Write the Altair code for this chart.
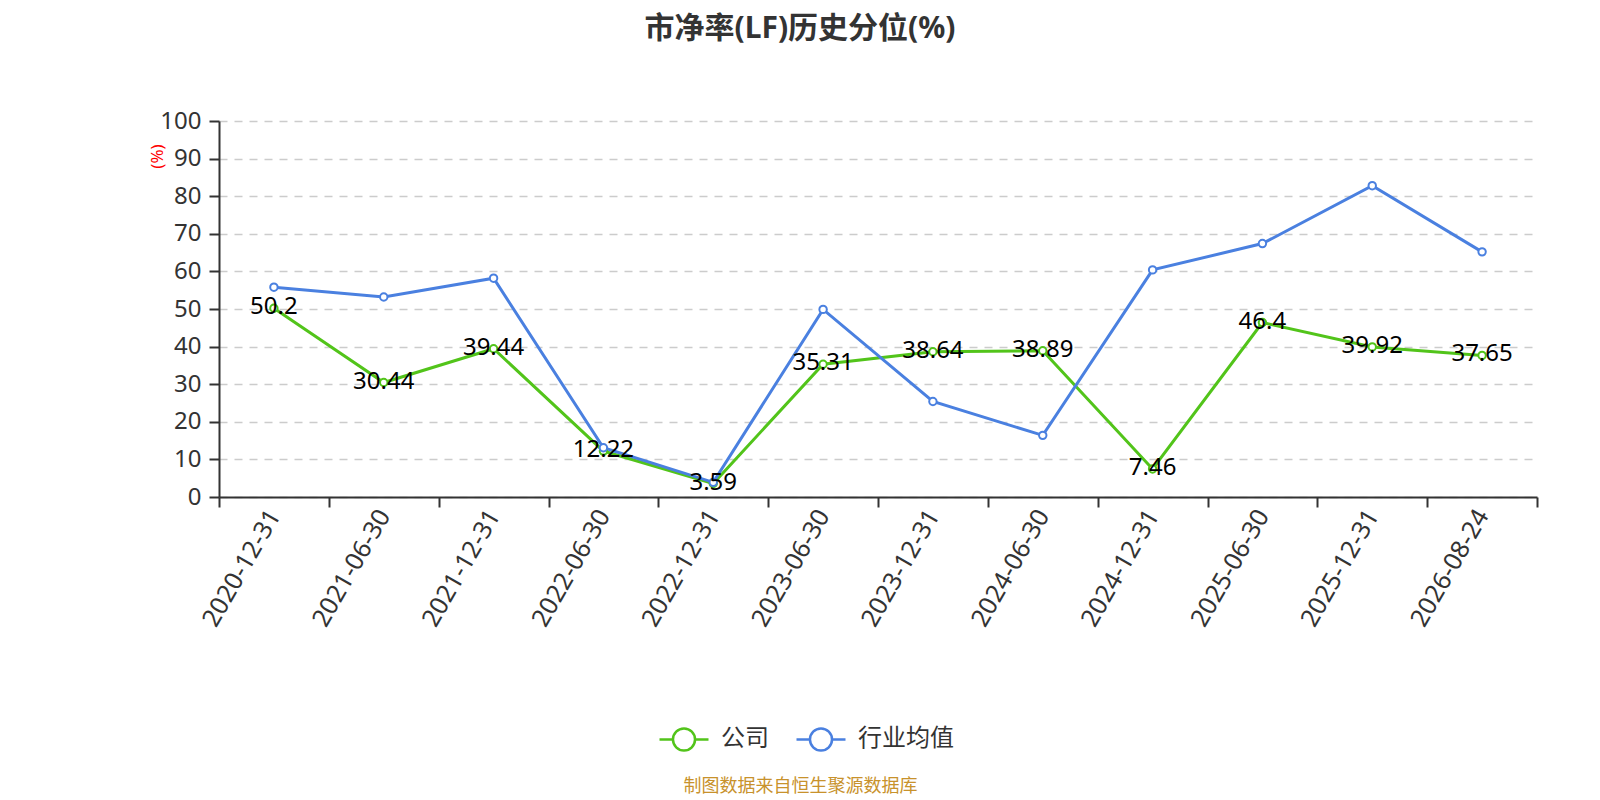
import altair as alt
import pandas as pd

dates = ["2020-12-31", "2021-06-30", "2021-12-31", "2022-06-30", "2022-12-31", "2023-06-30",
         "2023-12-31", "2024-06-30", "2024-12-31", "2025-06-30", "2025-12-31", "2026-08-24"]
company = [50.2, 30.44, 39.44, 12.22, 3.59, 35.31, 38.64, 38.89, 7.46, 46.4, 39.92, 37.65]
industry = [55.8, 53.2, 58.2, 13.1, 3.9, 49.9, 25.4, 16.4, 60.4, 67.4, 82.8, 65.2]
series_names = ["公司", "行业均值"]
series_colors = ["#52c41a", "#4a80e0"]

FONT = "Noto Sans, Noto Sans CJK SC, sans-serif"

rows = []
for d, v in zip(dates, company):
    rows.append({"date": d, "series": series_names[0], "value": v, "label": f"{v:g}"})
for d, v in zip(dates, industry):
    rows.append({"date": d, "series": series_names[1], "value": v, "label": ""})
df = pd.DataFrame(rows)

legend_path = ("M-1,0L-0.45,0M0.45,0L1,0"
               "M-0.45,0A0.45,0.45,0,1,1,0.45,0A0.45,0.45,0,1,1,-0.45,0")

x_enc = alt.X("date:N", sort=dates,
              scale=alt.Scale(type="band", paddingInner=0, paddingOuter=0),
              axis=alt.Axis(title="制图数据来自恒生聚源数据库", titleFontSize=18,
                            titleColor="#c8922c", titleFont=FONT, titleFontWeight="normal",
                            titleX=581, titleY=289, titleAlign="center",
                            titleBaseline="middle", titleAngle=0,
                            labelAngle=-60, labelFontSize=25, labelColor="#333333",
                            labelFont=FONT, labelAlign="right", labelBaseline="middle",
                            labelPadding=4, tickSize=10, tickWidth=2, tickColor="#333333",
                            tickBand="extent", domainColor="#333333", domainWidth=2,
                            grid=False, labelOverlap=False))
y_enc = alt.Y("value:Q", scale=alt.Scale(domain=[0, 100], nice=False),
              axis=alt.Axis(title="(%)", titleColor="red", titleFontSize=17,
                            titleFont=FONT, titleFontWeight="normal",
                            titleAngle=-90, titleX=-62, titleY=35,
                            titleAlign="center", titleBaseline="middle",
                            values=list(range(0, 101, 10)), labelFontSize=24,
                            labelColor="#333333", labelFont=FONT, labelPadding=8,
                            tickSize=10, tickWidth=2, tickColor="#333333",
                            domainColor="#333333", domainWidth=2,
                            grid=True, gridColor="#cccccc", gridDash=[8, 7],
                            gridWidth=1.5))
color_enc = alt.Color("series:N", sort=series_names,
                      scale=alt.Scale(domain=series_names, range=series_colors),
                      legend=alt.Legend(title=None, orient="none", direction="horizontal",
                                        legendX=439, legendY=592,
                                        symbolType=legend_path, symbolSize=2401,
                                        symbolStrokeWidth=2.5, symbolFillColor="white",
                                        labelFontSize=24, labelColor="#333333",
                                        labelFont=FONT, labelOffset=11,
                                        columnPadding=22))

base = alt.Chart(df)

lines = base.mark_line(strokeWidth=3).encode(x=x_enc, y=y_enc, color=color_enc,
                                             order=alt.Order("series:N"))
points = base.mark_point(filled=True, fill="white", size=55, strokeWidth=2, opacity=1).encode(
    x=x_enc, y=y_enc, stroke=alt.Stroke("series:N", scale=alt.Scale(domain=series_names, range=series_colors), legend=None))
labels = base.transform_filter(alt.datum.series == series_names[0]).mark_text(
    fontSize=24, color="#000000", font=FONT, align="center", baseline="middle", dy=-1
).encode(x=x_enc, y=y_enc, text="label:N")

chart = alt.layer(lines, points, labels).properties(
    width=1318, height=376,
    background="white",
    title=alt.Title("市净率(LF)历史分位(%)", fontSize=30, fontWeight="bold", color="#333333",
                    font=FONT, anchor="middle", dx=-78, dy=-61),
    autosize=alt.AutoSizeParams(type="none"),
    padding={"left": 211, "top": 113, "right": 40, "bottom": 303},
).configure_view(stroke=None)

chart.save("out.html", embed_options={"renderer": "svg", "actions": False})
